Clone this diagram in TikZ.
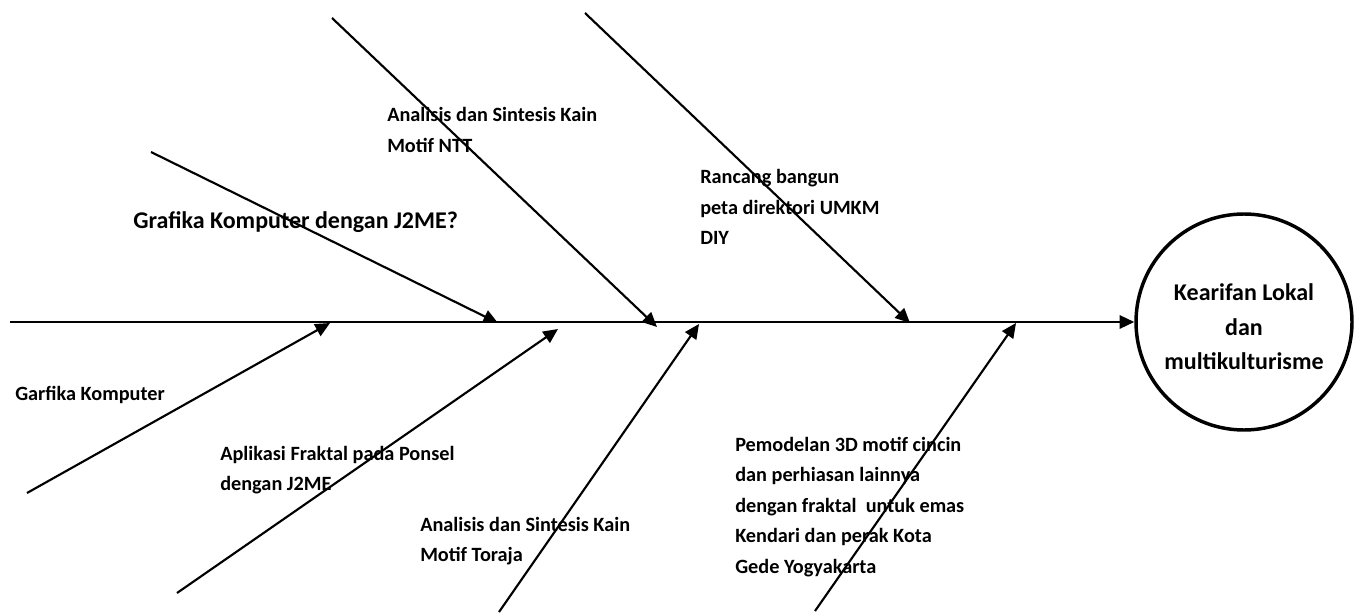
\documentclass[tikz,border=0pt]{standalone}
\usepackage{fontspec}
\setmainfont{Carlito}
\usetikzlibrary{arrows.meta}

\tikzset{
  bone/.style={line width=1.6pt, -{Triangle[length=11pt,width=10pt]}},
  cause/.style={anchor=west, align=left, inner sep=0pt, font=\bfseries\fontsize{15.2}{22.9}\selectfont},
  bigtext/.style={font=\bfseries\fontsize{18}{25.9}\selectfont},
}

\begin{document}
\begin{tikzpicture}[x=0.75pt,y=-0.75pt]
  \useasboundingbox (0,0) rectangle (1356,613);

  %Effect
  \node [circle, draw, line width=2.6pt, minimum size=162pt] (effect) at (1244,322) {};
  \node [align=center, bigtext] (effect text) at ([yshift=-3.75pt]effect.center) {Kearifan Lokal\\dan\\multikulturisme};

  %Labels
  \node [cause] (ntt) at (387,130) {Analisis dan Sintesis Kain\\Motif NTT};
  \node [cause, bigtext] (j2me) at (133,222) {Grafika Komputer dengan J2ME?};
  \node [cause] (umkm) at (700,207) {Rancang bangun\\peta direktori UMKM\\DIY};
  \node [cause] (garfika) at (15,395) {Garfika Komputer};
  \node [cause] (ponsel) at (220,470) {Aplikasi Fraktal pada Ponsel\\dengan J2ME};
  \node [cause] (toraja) at (420,541) {Analisis dan Sintesis Kain\\Motif Toraja};
  \node [cause] (emas) at (735,507) {Pemodelan 3D motif cincin\\dan perhiasan lainnya\\dengan fraktal\ \ untuk emas\\Kendari dan perak Kota\\Gede Yogyakarta};

  %Spine
  \coordinate (tail) at (10,322);
  \draw [bone] (tail) -- (effect.west);

  %Upper bones
  \coordinate (j2me s) at (151,152);
  \coordinate (j2me e) at (498,323);
  \draw [bone] (j2me s) -- (j2me e);
  \coordinate (ntt s) at (332,18);
  \coordinate (ntt e) at (657,327);
  \draw [bone] (ntt s) -- (ntt e);
  \coordinate (umkm s) at (585,13);
  \coordinate (umkm e) at (910,323);
  \draw [bone] (umkm s) -- (umkm e);

  %Lower bones
  \coordinate (garfika s) at (27,493);
  \coordinate (garfika e) at (330,323);
  \draw [bone] (garfika s) -- (garfika e);
  \coordinate (ponsel s) at (177,593);
  \coordinate (ponsel e) at (558,329);
  \draw [bone] (ponsel s) -- (ponsel e);
  \coordinate (toraja s) at (499,612);
  \coordinate (toraja e) at (699,324);
  \draw [bone] (toraja s) -- (toraja e);
  \coordinate (emas s) at (815,611);
  \coordinate (emas e) at (1016,323);
  \draw [bone] (emas s) -- (emas e);

\end{tikzpicture}
\end{document}
